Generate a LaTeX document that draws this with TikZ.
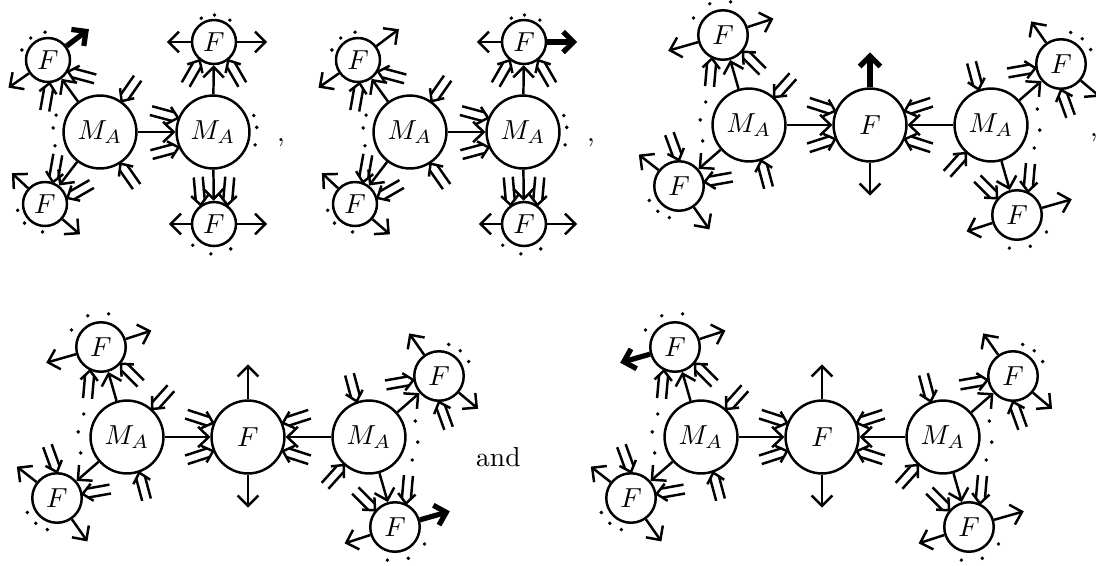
\documentclass[tikz,border=0pt]{standalone}
\usepackage{amsmath}
\usepackage{tikz}
\usetikzlibrary{arrows.meta}

\tikzset{
  big/.style={circle, draw, minimum size=26.5pt, inner sep=0pt},
  smallA/.style={circle, draw, minimum size=16pt, inner sep=0pt},
  smallB/.style={circle, draw, minimum size=18pt, inner sep=0pt},
  arr/.style={-{Straight Barb[length=3.8pt,width=7.5pt]}},
  fat/.style={line width=1.9pt},
  word/.style={anchor=base west, inner sep=0pt},
  outF1/.style={}, outF3/.style={}, outC/.style={}, outTL/.style={}, outBR/.style={}
}

% double leg with one tip: node, anchor angle, direction
\newcommand{\legs}[3]{%
  \draw (#1.#2) ++(#3:5) ++(#3+90:4.5) -- ++(#3:23)
        (#1.#2) ++(#3:5) ++(#3-90:4.5) -- ++(#3:23);
  \draw (#1.#2) ++(#3+42:13) -- (#1.#2) -- ++(#3-42:13);
}
% dots round a vertex: node, angles, distance
\newcommand{\moredots}[3]{%
  \foreach \a in {#2} \fill (#1.center) ++(\a:#3) circle[radius=0.7pt];
}

% two M_A
\newcommand{\diagA}{%
  \node[big] (m1) at (0,0) {$M_A$};
  \node[big] (m2) at (113,0) {$M_A$};
  \node[smallA] (f1) at (-52,72) {$F$};
  \node[smallA] (f2) at (-55,-72) {$F$};
  \node[smallA] (f3) at (114,90) {$F$};
  \node[smallA] (f4) at (114,-92) {$F$};
  \draw[arr] (m1) -- (m2);
  \draw[arr] (m1) -- (f1);
  \draw[arr] (m1) -- (f2);
  \draw[arr] (m2) -- (f3);
  \draw[arr] (m2) -- (f4);
  \draw[arr, outF1] (f1.37) -- ++(37:28);
  \draw[arr] (f1.215) -- ++(215:25);
  \draw[arr] (f2.137) -- ++(137:22);
  \draw[arr] (f2.-41) -- ++(-41:23);
  \draw[arr] (f3.180) -- ++(180:24);
  \draw[arr, outF3] (f3.0) -- ++(0:30);
  \draw[arr] (f4.180) -- ++(180:22);
  \draw[arr] (f4.0) -- ++(0:30);
  \legs{m1}{55}{55}
  \legs{m1}{-57}{-55}
  \legs{m2}{158}{165}
  \legs{m2}{204}{195}
  \legs{f1}{-30}{-15}
  \legs{f1}{-86}{-100}
  \legs{f2}{70}{80}
  \legs{f2}{15}{30}
  \legs{f3}{232}{240}
  \legs{f3}{-52}{-60}
  \legs{f4}{125}{95}
  \legs{f4}{55}{85}
  \moredots{m1}{159,175,197}{47}
  \moredots{m2}{22,6,-17}{44}
  \moredots{f1}{159,128,96}{28}
  \moredots{f2}{193,223,265}{28}
  \moredots{f3}{118,89,54}{27}
  \moredots{f4}{225,264,304}{30}
}

% F in the middle
\newcommand{\diagB}{%
  \node[big] (c) at (0,0) {$F$};
  \node[big] (ml) at (-121,0) {$M_A$};
  \node[big] (mr) at (121,0) {$M_A$};
  \node[smallB] (tl) at (-147,90) {$F$};
  \node[smallB] (bl) at (-191,-61) {$F$};
  \node[smallB] (tr) at (191,61) {$F$};
  \node[smallB] (br) at (147,-90) {$F$};
  \draw[arr] (ml) -- (c);
  \draw[arr] (mr) -- (c);
  \draw[arr] (ml) -- (tl);
  \draw[arr] (ml) -- (bl);
  \draw[arr] (mr) -- (tr);
  \draw[arr] (mr) -- (br);
  \draw[arr, outC] (c.90) -- ++(90:35);
  \draw[arr] (c.-90) -- ++(-90:33);
  \draw[arr, outTL] (tl.196) -- ++(196:31);
  \draw[arr] (tl.18) -- ++(18:27);
  \draw[arr] (bl.142) -- ++(142:25);
  \draw[arr] (bl.-55) -- ++(-55:27);
  \draw[arr, outBR] (br.16) -- ++(16:31);
  \draw[arr] (br.198) -- ++(198:27);
  \draw[arr] (tr.-40) -- ++(-40:25);
  \draw[arr] (tr.125) -- ++(125:26);
  \legs{c}{158}{162}
  \legs{c}{202}{198}
  \legs{c}{22}{18}
  \legs{c}{-22}{-18}
  \legs{ml}{48}{48}
  \legs{ml}{-71}{-75}
  \legs{mr}{228}{228}
  \legs{mr}{109}{105}
  \legs{tl}{-115}{-95}
  \legs{tl}{-40}{-45}
  \legs{br}{65}{85}
  \legs{br}{140}{135}
  \legs{bl}{90}{110}
  \legs{bl}{9}{10}
  \legs{tr}{270}{290}
  \legs{tr}{189}{190}
  \moredots{ml}{152,174,199}{49}
  \moredots{mr}{-28,-6,19}{49}
  \moredots{tl}{150,113,77}{34}
  \moredots{br}{-30,-67,-103}{34}
  \moredots{bl}{206,230,253}{33}
  \moredots{tr}{26,50,73}{33}
}

\begin{document}
\begin{tikzpicture}[x=0.3636pt, y=0.3636pt, line width=0.9pt]
  \useasboundingbox (0,0) rectangle (1096,-565);

  \begin{scope}[shift={(100,-132)}, name prefix=d1-, outF1/.style={fat}]
    \diagA
  \end{scope}
  \node[word] (comma1) at (276,-141) {,};

  \begin{scope}[shift={(410,-132)}, name prefix=d2-, outF3/.style={fat}]
    \diagA
  \end{scope}
  \node[word] (comma2) at (586,-141) {,};

  \begin{scope}[shift={(870,-125)}, name prefix=d3-, outC/.style={fat}]
    \diagB
  \end{scope}
  \node[word] (comma3) at (1089,-136) {,};

  \begin{scope}[shift={(248,-437)}, name prefix=d4-, outBR/.style={fat}]
    \diagB
  \end{scope}
  \node[word] (txt) at (475,-466) {and};

  \begin{scope}[shift={(822,-437)}, name prefix=d5-, outTL/.style={fat}]
    \diagB
  \end{scope}
\end{tikzpicture}
\end{document}
